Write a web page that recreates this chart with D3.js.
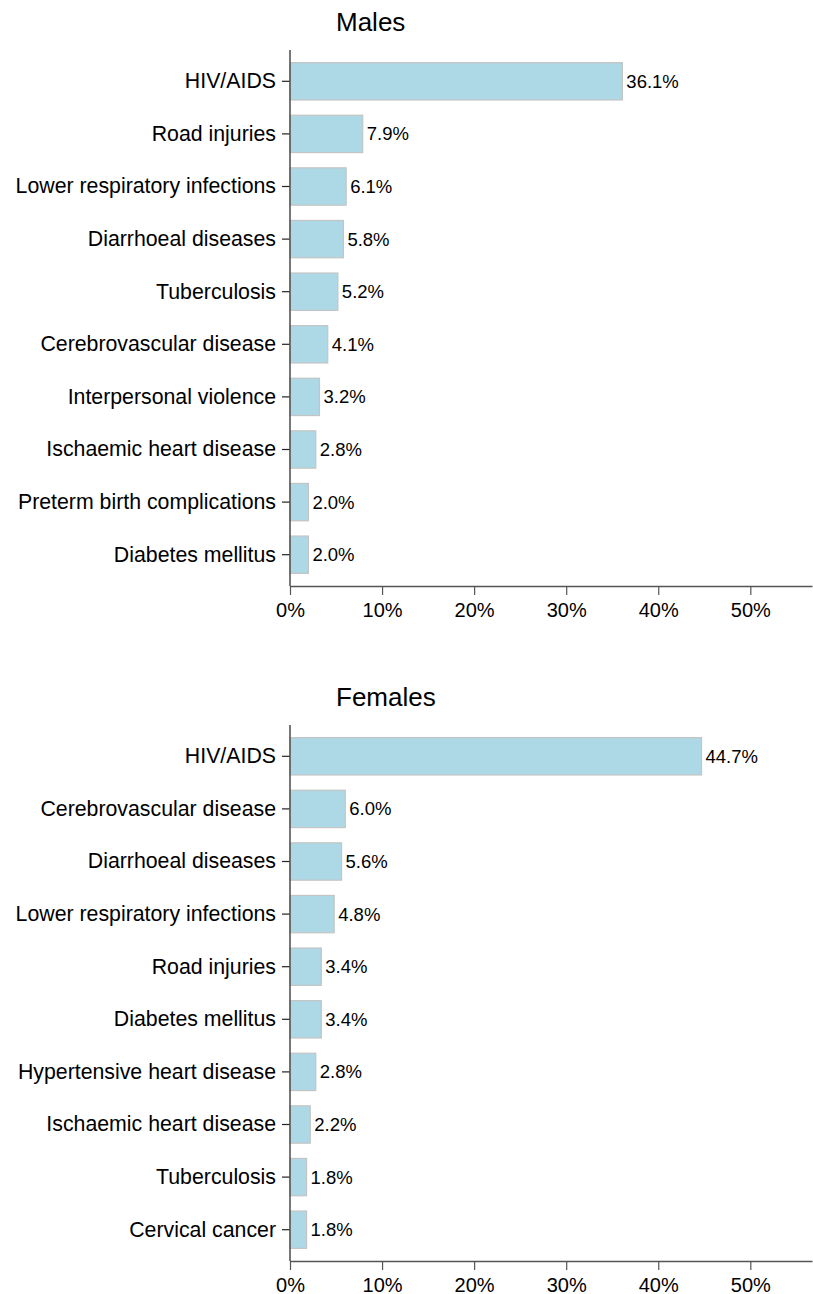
<!DOCTYPE html>
<html>
<head>
<meta charset="utf-8">
<script src="https://cdn.jsdelivr.net/npm/d3@7"></script>
<style>
  body { margin: 0; background: #fff; }
  svg text { font-family: "Liberation Sans", Arial, sans-serif; fill: #000; }
</style>
</head>
<body>
<div id="chart"></div>
<script>
const maleCauses = ["HIV/AIDS", "Road injuries", "Lower respiratory infections", "Diarrhoeal diseases",
  "Tuberculosis", "Cerebrovascular disease", "Interpersonal violence", "Ischaemic heart disease",
  "Preterm birth complications", "Diabetes mellitus"];
const maleValues = [36.1, 7.9, 6.1, 5.8, 5.2, 4.1, 3.2, 2.8, 2.0, 2.0];

const femaleCauses = ["HIV/AIDS", "Cerebrovascular disease", "Diarrhoeal diseases", "Lower respiratory infections",
  "Road injuries", "Diabetes mellitus", "Hypertensive heart disease", "Ischaemic heart disease",
  "Tuberculosis", "Cervical cancer"];
const femaleValues = [44.7, 6.0, 5.6, 4.8, 3.4, 3.4, 2.8, 2.2, 1.8, 1.8];

const xTicks = [0, 10, 20, 30, 40, 50];
const xMax = 56.7;

const W = 813, H = 1294;
const svg = d3.select("#chart").append("svg").attr("width", W).attr("height", H);

const x = d3.scaleLinear().domain([0, xMax]).range([290, 812]);

function drawPanel(title, cats, vals, top) {
  const g = svg.append("g").attr("transform", "translate(0," + top + ")");

  const y = d3.scaleBand().domain(cats).range([50, 586])
    .paddingInner(0.29).paddingOuter(0.24);

  g.append("text")
    .attr("x", 336).attr("y", 31)
    .style("font-size", "26px")
    .text(title);

  // bars
  g.selectAll(".bar")
    .data(cats)
    .enter().append("rect")
    .attr("class", "bar")
    .attr("x", x(0))
    .attr("y", d => y(d))
    .attr("width", (d, i) => x(vals[i]) - x(0))
    .attr("height", y.bandwidth())
    .style("fill", "#add8e6")
    .style("stroke", "#c4c4c4")
    .style("stroke-width", 1.2);

  g.selectAll(".val")
    .data(cats)
    .enter().append("text")
    .attr("class", "val")
    .attr("x", (d, i) => x(vals[i]) + 4)
    .attr("y", d => y(d) + y.bandwidth() / 2)
    .attr("dy", "0.35em")
    .style("font-size", "18.5px")
    .text((d, i) => vals[i].toFixed(1) + "%");

  // y axis
  const yAxis = g.append("g")
    .attr("transform", "translate(" + x(0) + ",0)")
    .call(d3.axisLeft(y).tickSize(8).tickPadding(6).tickSizeOuter(0));
  yAxis.select(".domain").remove();
  yAxis.selectAll(".tick line").attr("stroke", "#222").attr("stroke-width", 1.2);
  yAxis.selectAll(".tick text").style("font-size", "21.3px").attr("fill", "#000");
  g.append("line")
    .attr("x1", x(0)).attr("x2", x(0))
    .attr("y1", 50).attr("y2", 586)
    .attr("stroke", "#555").attr("stroke-width", 1.6);

  // x axis
  const xAxis = g.append("g")
    .attr("transform", "translate(0,586)")
    .call(d3.axisBottom(x).tickValues(xTicks).tickFormat(d => d + "%").tickSize(9).tickPadding(8).tickSizeOuter(0));
  xAxis.select(".domain").attr("stroke", "#555").attr("stroke-width", 1.6);
  xAxis.selectAll(".tick line").attr("stroke", "#555").attr("stroke-width", 1.2);
  xAxis.selectAll(".tick text").style("font-size", "20px").attr("fill", "#000");
}

drawPanel("Males", maleCauses, maleValues, 0);
drawPanel("Females", femaleCauses, femaleValues, 675);
</script>
</body>
</html>
